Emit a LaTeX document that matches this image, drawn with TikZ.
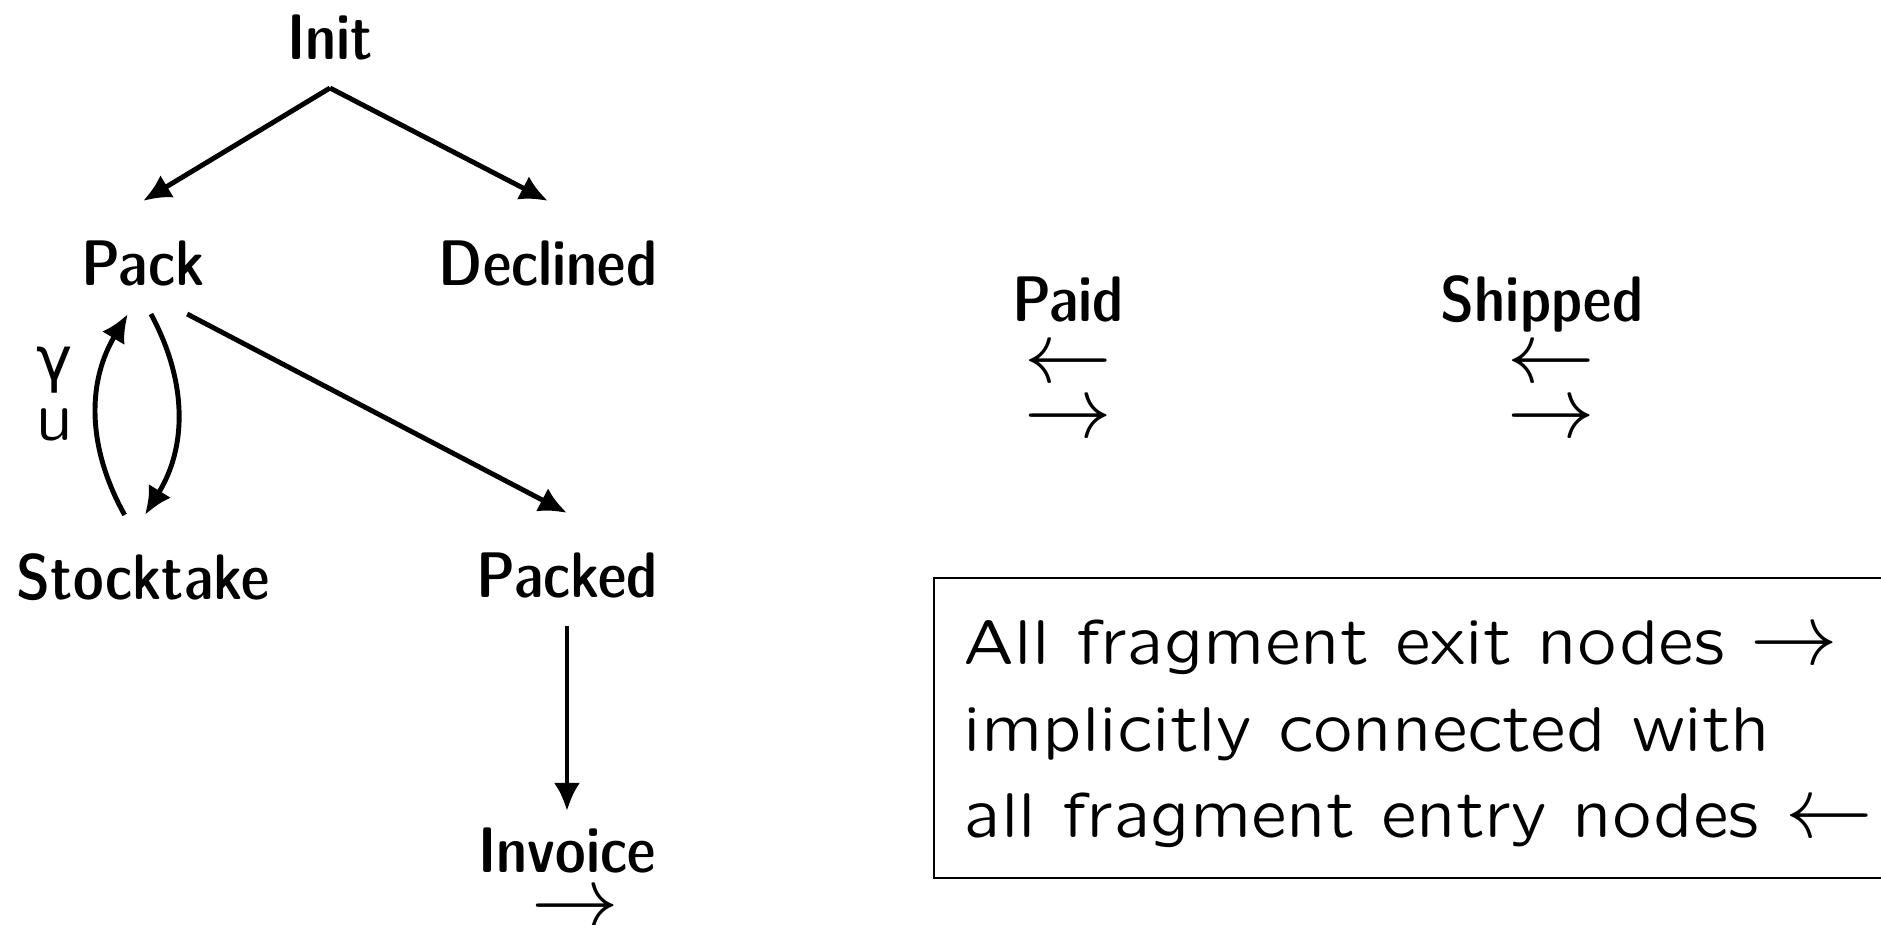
\documentclass[tikz,border=0pt]{standalone}
\usepackage{fontspec}
\usetikzlibrary{arrows.meta}
\newfontfamily\statefont{lmsansdemicond10-regular.otf}
\newfontfamily\notefont{lmsansquot8-regular.otf}
\newfontfamily\greekfont{DejaVu Sans}
\newcommand{\inmark}{{\fontsize{23}{27}\selectfont$\leftarrow$}}
\newcommand{\outmark}{{\fontsize{23}{27}\selectfont$\rightarrow$}}
\tikzset{
  state/.style={font=\statefont\fontsize{18.3}{22}\selectfont, text height=0.57cm, text depth=0pt,
    inner xsep=0.1cm, inner ysep=0pt, outer ysep=0.28cm, anchor=base},
  port/.style={inner sep=0pt},
  flow/.style={-{Latex[length=0.28cm,width=0.26cm]}, line width=1.4pt},
  note/.style={anchor=base west, align=left, inner sep=0pt,
    font=\notefont\fontsize{18}{24.7}\selectfont}
}
\begin{document}
\begin{tikzpicture}[x=0.01cm,y=-0.01cm]
  \useasboundingbox (0,0) rectangle (1881,925);
  \clip (0,0) rectangle (1881,925);
  % states
  \node[state] (init) at (330,60) {Init};
  \node[state] (pack) at (143,286) {Pack};
  \node[state] (declined) at (548,286) {Declined};
  \node[state] (stocktake) at (143,600) {Stocktake};
  \node[state] (packed) at (567,598) {Packed};
  \node[state] (invoice) at (567,873) {Invoice};
  \node[state] (paid) at (1068,322) {Paid};
  \node[state] (shipped) at (1542,322) {Shipped};
  % entry and exit marks
  \node[port] (invoiceout) at (575,911) {\outmark};
  \node[port] (paidin) at (1068,366) {\inmark};
  \node[port] (paidout) at (1068,421) {\outmark};
  \node[port] (shippedin) at (1551,366) {\inmark};
  \node[port] (shippedout) at (1551,421) {\outmark};
  % transitions
  \draw[flow] (init.south) -- (pack.north);
  \draw[flow] (init.south) -- (declined.north);
  \draw[flow] (pack.-52) -- (packed.north);
  \draw[flow] (pack.-82) to[bend left=30] (stocktake.88);
  \draw[flow] (stocktake.108) to[bend left=30]
    node[pos=0.6, left=0.22cm, inner sep=0pt, align=center, font=\notefont\fontsize{17.4}{17}\selectfont] (retry) {\greekfont γ\\u} (pack.-105);
  \draw[flow, shorten >=-0.23cm] (packed.south) -- (invoice.north);
  % note
  \draw[line width=0.6pt] (934,578) rectangle (1920,878);
  \node[note] (rule) at (963,838) {All fragment exit nodes \outmark\\implicitly connected with\\all fragment entry nodes \inmark};
\end{tikzpicture}
\end{document}
